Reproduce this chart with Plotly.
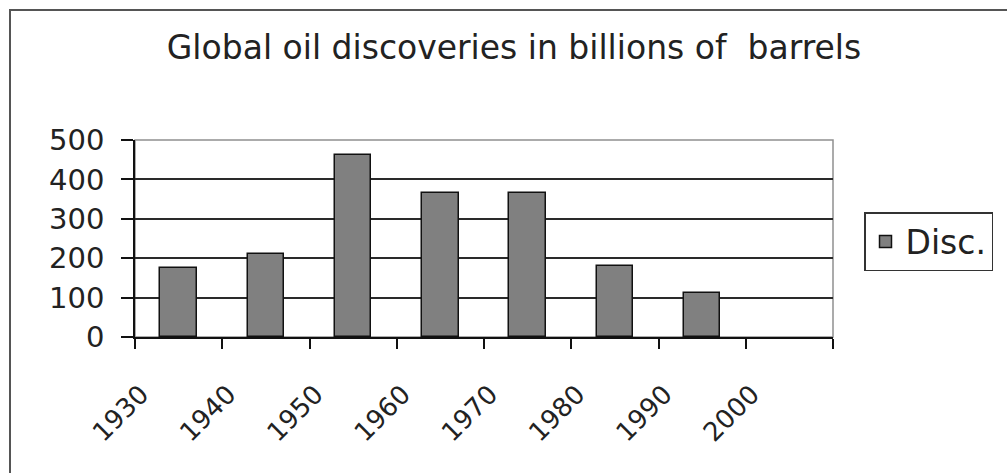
import plotly.graph_objects as go

# ---- data ----
decades = [1930, 1940, 1950, 1960, 1970, 1980, 1990]
discoveries = [176, 210, 462, 366, 366, 181, 111]
tick_years = [1930, 1940, 1950, 1960, 1970, 1980, 1990, 2000, 2010]
tick_labels = ["1930", "1940", "1950", "1960", "1970", "1980", "1990", "2000", ""]
y_ticks = [0, 100, 200, 300, 400, 500]
series_name = "Disc."
title_text = "Global oil discoveries in billions of\u00a0\u00a0barrels"

W, H = 1007, 473
L, R, T, B = 135, 1007 - 833, 140, 473 - 337
pw, ph = W - L - R, H - T - B

def px_x(p):
    return (p - L) / pw

def px_y(p):
    return (H - B - p) / ph

FONT = "DejaVu Sans"

fig = go.Figure()
fig.add_trace(go.Bar(
    x=[d + 5 for d in decades],
    y=discoveries,
    width=4.2,
    name=series_name,
    marker=dict(color="#808080", line=dict(color="#111111", width=1.5)),
    showlegend=True,
))

fig.update_layout(
    width=W, height=H,
    margin=dict(l=L, r=R, t=T, b=B, pad=0),
    paper_bgcolor="white",
    plot_bgcolor="white",
    font=dict(family=FONT, color="#222222", size=26),
    title=dict(text=title_text, xref="container", x=514 / W, xanchor="center",
               yref="container", y=1 - 47 / H, yanchor="middle",
               font=dict(family=FONT, size=33, color="#222222")),
    xaxis=dict(
        range=[1930, 2010], tickmode="array", tickvals=tick_years, ticktext=tick_labels,
        tickangle=-45, ticks="outside", ticklen=10, tickcolor="#111111", tickwidth=1.5,
        showline=True, linecolor="#111111", linewidth=1.5, showgrid=False, zeroline=False,
        tickfont=dict(family=FONT, size=26, color="#222222"),
        ticklabelstandoff=20, ticklabelshift=6,
    ),
    yaxis=dict(
        range=[0, 500], tickmode="array", tickvals=y_ticks,
        ticks="outside", ticklen=12, tickcolor="#111111", tickwidth=1.5,
        showline=True, linecolor="#111111", linewidth=1.5,
        showgrid=True, gridcolor="#2a2a2a", gridwidth=1.5, zeroline=False,
        tickfont=dict(family=FONT, size=29, color="#222222"),
        ticklabelstandoff=11,
    ),
    legend=dict(
        x=px_x(864), xanchor="left", y=px_y(212), yanchor="top",
        bordercolor="#333333", borderwidth=1.5, bgcolor="white",
        font=dict(family=FONT, size=33, color="#222222"),
    ),
    bargap=0,
    shapes=[
        dict(type="rect", xref="paper", yref="paper", x0=0, x1=1, y0=0, y1=1,
             line=dict(color="#909090", width=1.5), layer="below"),
        dict(type="rect", xref="paper", yref="paper",
             x0=px_x(10), x1=px_x(1030), y0=px_y(10), y1=px_y(490),
             line=dict(color="#555555", width=2), layer="below"),
    ],
)

fig.write_html("out.html")
